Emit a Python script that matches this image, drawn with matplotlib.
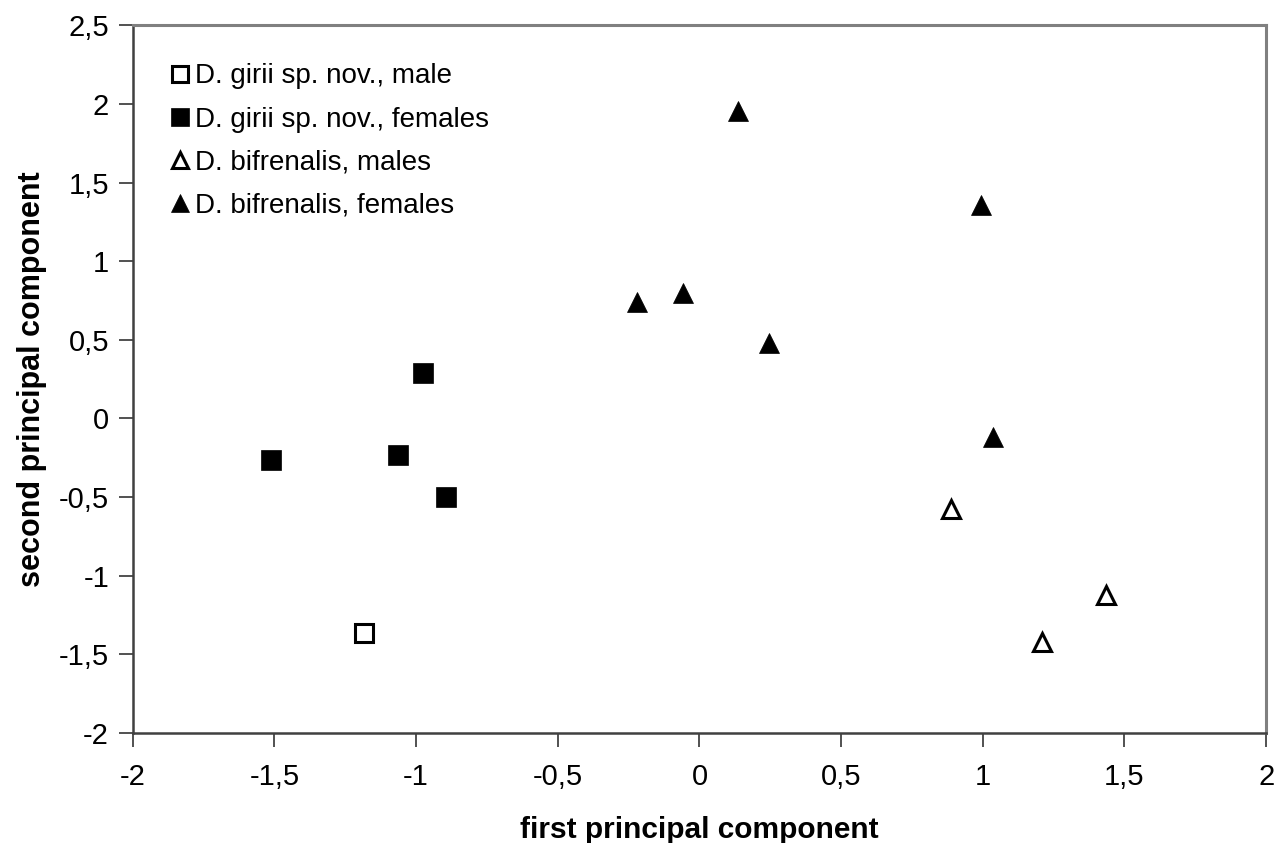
import matplotlib
matplotlib.use("Agg")
import matplotlib.pyplot as plt
from matplotlib.ticker import FuncFormatter, MultipleLocator

plt.rcParams['font.family'] = ['Liberation Sans', 'DejaVu Sans']

# PCA scores
girii_male_x = [-1.185]
girii_male_y = [-1.363]
girii_fem_x = [-1.511, -1.065, -0.974, -0.896]
girii_fem_y = [-0.263, -0.231, 0.289, -0.501]
bif_male_x = [0.886, 1.435, 1.208]
bif_male_y = [-0.577, -1.127, -1.424]
bif_fem_x = [0.136, 0.994, -0.222, -0.057, 0.244, 1.036]
bif_fem_y = [1.952, 1.357, 0.739, 0.799, 0.480, -0.119]

labels = ["D. girii sp. nov., male", "D. girii sp. nov., females",
          "D. bifrenalis, males", "D. bifrenalis, females"]


def comma(v, pos):
    return ("%g" % v).replace(".", ",")


fig = plt.figure(figsize=(12.8, 8.43), dpi=100)
ax = fig.add_axes([0.1037, 0.1308, 0.8855, 0.8392])

ms = 14
ax.plot(girii_male_x, girii_male_y, ls='none', marker='s', ms=ms - 1.5, mfc='white',
        mec='black', mew=2.2, label=labels[0])
ax.plot(girii_fem_x, girii_fem_y, ls='none', marker='s', ms=ms, mfc='black',
        mec='black', mew=0.5, label=labels[1])
ax.plot(bif_male_x, bif_male_y, ls='none', marker='^', ms=ms - 1.5, mfc='white',
        mec='black', mew=2.2, label=labels[2])
ax.plot(bif_fem_x, bif_fem_y, ls='none', marker='^', ms=ms, mfc='black',
        mec='black', mew=0.5, label=labels[3])

ax.set_xlim(-2, 2)
ax.set_ylim(-2, 2.5)
ax.xaxis.set_major_locator(MultipleLocator(0.5))
ax.yaxis.set_major_locator(MultipleLocator(0.5))
ax.xaxis.set_major_formatter(FuncFormatter(comma))
ax.yaxis.set_major_formatter(FuncFormatter(comma))
ax.tick_params(axis='both', direction='out', length=10, width=1.2, color='#333333',
               labelsize=21)
ax.tick_params(axis='y', pad=7)
ax.tick_params(axis='x', pad=12)

ax.spines['left'].set_color('#404040')
ax.spines['bottom'].set_color('#404040')
ax.spines['left'].set_linewidth(1.8)
ax.spines['bottom'].set_linewidth(1.8)
ax.spines['top'].set_color('#808080')
ax.spines['right'].set_color('#808080')
ax.spines['top'].set_linewidth(2.2)
ax.spines['right'].set_linewidth(2.2)

ax.set_xlabel("first principal component", fontsize=21.5, fontweight='bold', labelpad=18)
ax.set_ylabel("second principal component", fontsize=22, fontweight='bold', labelpad=8.5)

leg = ax.legend(loc='upper left', bbox_to_anchor=(0.0235, 0.962), frameon=False,
                fontsize=20, handlelength=0.7, handletextpad=0.2, labelspacing=0.62,
                markerscale=0.95, borderaxespad=0)

fig.savefig("out.png", dpi=100)
